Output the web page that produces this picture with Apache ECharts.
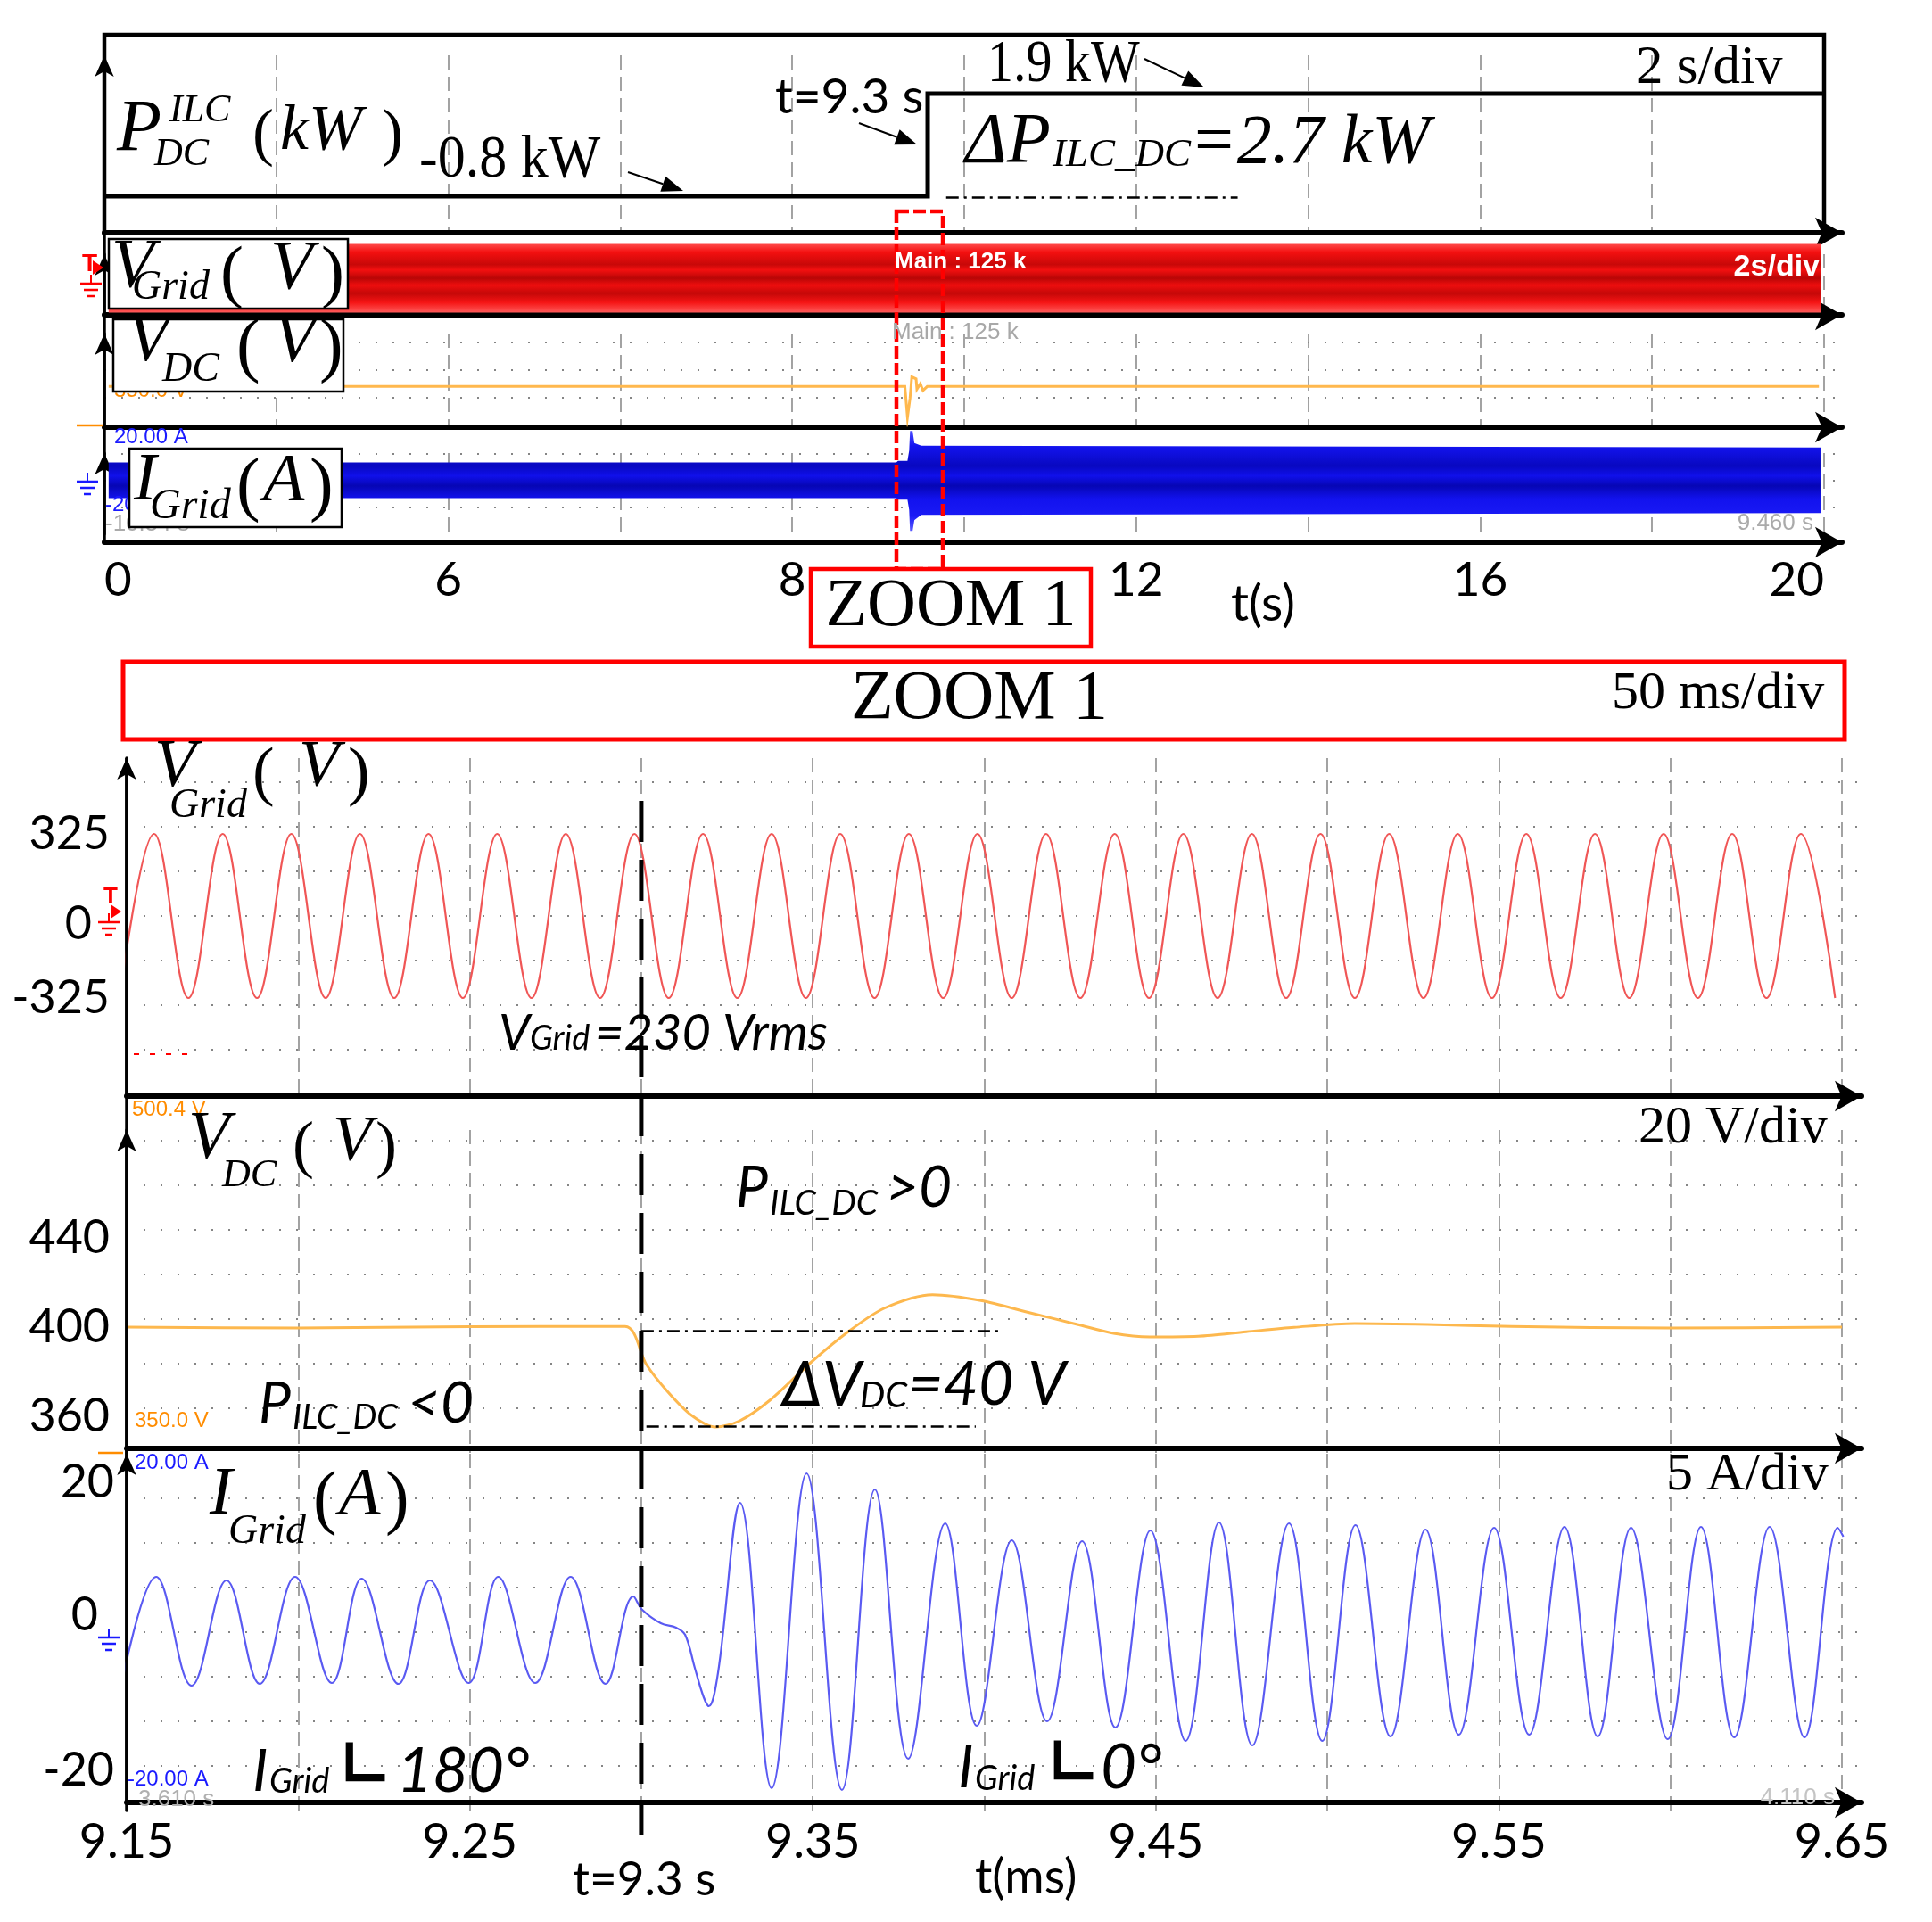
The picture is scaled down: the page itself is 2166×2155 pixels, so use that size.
<!DOCTYPE html>
<html>
<head>
<meta charset="utf-8">
<script src="https://cdn.jsdelivr.net/npm/echarts@6.0.0/dist/echarts.min.js"></script>
<style>
  html, body { margin: 0; padding: 0; background: #fff; }
  #chart { width: 2166px; height: 2155px; }
</style>
</head>
<body>
<div id="chart"></div>
<script>
var chart = echarts.init(document.getElementById('chart'), null, { width: 2166, height: 2155 })

// ---- top record, 2 s/div ----
var topTickValues = [0, 4, 8, 12, 16, 20]
var topTickText = ['0', '6', '8', '12', '16', '20']

var pdcTime = [0, 9.575, 9.575, 20]
var pdcKW = [-0.8, -0.8, 1.9, 1.9]

var vgridBandTime = [0.05, 19.96]
var vgridBandHi = [325, 325]
var vgridBandLo = [-325, -325]

var vdcTopTime = [0.05, 9.31, 9.34, 9.37, 9.39, 9.44, 9.45, 9.49, 9.52, 9.57, 19.94]
var vdcTopVolt = [400, 400, 355, 383, 414, 411, 396, 404, 394, 400, 400]

var igridBandTime = [0.05, 9.21, 9.23, 9.34, 9.36, 9.37, 9.40, 9.42, 9.50, 19.96]
var igridBandHi = [6, 6, 6.5, 6.5, 10, 16.6, 16.6, 12.5, 11.6, 11]
var igridBandLo = [-6, -6, -6.5, -6.5, -10, -17, -17, -13.4, -11.6, -11]

// ---- ZOOM 1, 50 ms/div ----
var zoomTickValues = [9.15, 9.25, 9.35, 9.45, 9.55, 9.65]
var vgridTicks = [-325, 0, 325]
var vdcTicks = [360, 400, 440]
var igridTicks = [-20, 0, 20]

// grid voltage: successive troughs / peaks
var vgridTime = [9.148, 9.158, 9.168, 9.178, 9.188, 9.198, 9.208, 9.218, 9.228, 9.238,
  9.248, 9.258, 9.268, 9.278, 9.288, 9.298, 9.308, 9.318, 9.328, 9.338,
  9.348, 9.358, 9.368, 9.378, 9.388, 9.398, 9.408, 9.418, 9.428, 9.438,
  9.448, 9.458, 9.468, 9.478, 9.488, 9.498, 9.508, 9.518, 9.528, 9.538,
  9.548, 9.558, 9.568, 9.578, 9.588, 9.598, 9.608, 9.618, 9.628, 9.638, 9.648]
var vgridVolt = [-325, 325, -325, 325, -325, 325, -325, 325, -325, 325,
  -325, 325, -325, 325, -325, 325, -325, 325, -325, 325,
  -325, 325, -325, 325, -325, 325, -325, 325, -325, 325,
  -325, 325, -325, 325, -325, 325, -325, 325, -325, 325,
  -325, 325, -325, 325, -325, 325, -325, 325, -325, 325, -325]

var vdcTime = [9.15, 9.20, 9.25, 9.2953, 9.3015, 9.3076, 9.3146, 9.3216, 9.3286,
  9.3375, 9.3497, 9.3603, 9.3709, 9.3849, 9.3990, 9.4131, 9.4271, 9.4377, 9.4482,
  9.4623, 9.4763, 9.4903, 9.5080, 9.5291, 9.5537, 9.60, 9.65]
var vdcVolt = [400, 399.6, 400.2, 400.3, 383.2, 371.2, 360.5, 355.2, 357.9,
  367.2, 384.5, 397.9, 408.5, 414.5, 411.9, 406.5, 401.2, 397.2, 395.6,
  395.9, 397.9, 399.9, 401.6, 401.2, 400.3, 399.6, 400]

var igridTime = [9.1485, 9.1586, 9.1689, 9.1791, 9.1888, 9.1991, 9.2098, 9.2185, 9.2292, 9.2384,
  9.2497, 9.2583, 9.2691, 9.2794, 9.2896, 9.2977, 9.3003, 9.3057, 9.3102, 9.3128,
  9.3156, 9.3182, 9.3197, 9.3224, 9.3288, 9.3380, 9.3482, 9.3585, 9.3681, 9.3778,
  9.3886, 9.3978, 9.4080, 9.4183, 9.4285, 9.4382, 9.4484, 9.4587, 9.4684, 9.4781,
  9.4888, 9.4985, 9.5082, 9.5184, 9.5286, 9.5383, 9.5486, 9.5588, 9.5691, 9.5788,
  9.5885, 9.5992, 9.6089, 9.6186, 9.6289, 9.6391, 9.6488, 9.6504]
var igridAmp = [-5.9, 6.2, -6.0, 5.8, -5.8, 6.2, -5.7, 6.0, -5.8, 5.8,
  -5.7, 6.2, -5.7, 6.2, -5.8, 4.0, 2.5, 1.0, 0.5, -0.3,
  -4.0, -7.3, -8.3, -4.5, 14.5, -17.5, 17.8, -17.7, 16.0, -14.2,
  12.2, -10.5, 10.3, -10.0, 10.2, -10.7, 11.4, -12.2, 12.3, -12.7,
  12.2, -12.2, 12.0, -11.7, 11.5, -11.5, 11.7, -11.5, 11.8, -11.7,
  11.7, -12.0, 11.8, -11.8, 11.8, -11.8, 11.7, 10.7]

// annotation levels
var pdcRefLine = [[9.79, -0.82], [13.18, -0.82]]
var dvdcTop = [[9.30, 398.2], [9.405, 398.2]]
var dvdcBottom = [[9.3015, 355.6], [9.3975, 355.6]]

var SERIF = '"Liberation Serif", "Times New Roman", serif'
var SANS = 'Lato, "Open Sans", sans-serif'
var SCOPE = '"Liberation Sans", Arial, sans-serif'

var TOP_MAX = 20.2075
var BOT_MAX = 9.6557

function zip(xs, ys) {
  return xs.map(function (x, i) { return [x, ys[i]] })
}

var dashV = { show: true, showMinLine: false, showMaxLine: false,
  lineStyle: { color: '#8c8c8c', width: 1.6, type: [16, 8] } }
var dotH = { show: true, showMinLine: false, showMaxLine: false,
  lineStyle: { color: '#858585', width: 2.2, type: [2, 17] } }
var arrowX = { show: true, onZero: false, lineStyle: { color: '#000', width: 6 },
  symbol: ['none', 'arrow'], symbolSize: [26, 30] }
var arrowY = { show: true, onZero: false, lineStyle: { color: '#000', width: 3.5 },
  symbol: ['none', 'arrow'], symbolSize: [16, 24] }

function xTop(i, off, labels) {
  return {
    gridIndex: i, type: 'value', min: 0, max: TOP_MAX, interval: 2, offset: off,
    axisLine: arrowX, axisTick: { show: false }, splitLine: dashV,
    axisLabel: labels ? {
      customValues: topTickValues, fontFamily: SANS, fontSize: 53, color: '#000', margin: 16,
      alignMinLabel: 'left', alignMaxLabel: 'right',
      formatter: function (v) {
        for (var k = 0; k < topTickValues.length; k++) {
          if (Math.abs(topTickValues[k] - v) < 1e-6) return topTickText[k]
        }
        return ''
      }
    } : { show: false }
  }
}

function xZoom(i, off, labels) {
  return {
    gridIndex: i, type: 'value', min: 9.15, max: BOT_MAX, interval: 0.05, offset: off,
    axisLine: arrowX, axisTick: { show: false }, splitLine: dashV,
    axisLabel: labels ? {
      customValues: zoomTickValues, fontFamily: SANS, fontSize: 54, color: '#000', margin: 18,
      formatter: function (v) { return v.toFixed(2) }
    } : { show: false }
  }
}

function yData(i, min, max, label) {
  return {
    gridIndex: i, type: 'value', min: min, max: max,
    axisLine: arrowY, axisTick: { show: false }, splitLine: { show: false },
    axisLabel: label || { show: false }
  }
}

function yDiv(i, max) {
  return {
    gridIndex: i, type: 'value', position: 'right', min: 0, max: max, interval: 1,
    axisLine: { show: false }, axisTick: { show: false }, axisLabel: { show: false },
    splitLine: dotH
  }
}

function bandSeries(ax, ts, hi, lo, fill) {
  return {
    type: 'custom', xAxisIndex: ax, yAxisIndex: ax, silent: true, z: 2,
    data: [[ts[0], hi[0]]],
    renderItem: function (params, api) {
      var pts = []
      for (var i = 0; i < ts.length; i++) pts.push(api.coord([ts[i], hi[i]]))
      for (var j = ts.length - 1; j >= 0; j--) pts.push(api.coord([ts[j], lo[j]]))
      return { type: 'polygon', shape: { points: pts }, style: { fill: fill } }
    }
  }
}

function lineSeries(ax, data, color, width, smooth, extra) {
  var s = {
    type: 'line', xAxisIndex: ax, yAxisIndex: ax, data: data, smooth: smooth,
    symbol: 'none', showSymbol: false, silent: true, z: 3,
    lineStyle: { color: color, width: width, join: 'miter' }
  }
  if (extra) s.markLine = extra
  return s
}

function dashDot(pairs) {
  return {
    silent: true, symbol: 'none', label: { show: false },
    lineStyle: { color: '#000', width: 2.5, type: [14, 6, 3, 6] },
    data: pairs.map(function (p) { return [{ coord: p[0] }, { coord: p[1] }] })
  }
}

var redFill = new echarts.graphic.LinearGradient(0, 0, 0, 1, [
  { offset: 0, color: '#ff4a4a' }, { offset: 0.12, color: '#f41010' },
  { offset: 0.3, color: '#c80808' }, { offset: 0.38, color: '#f31010' },
  { offset: 0.5, color: '#b80606' }, { offset: 0.6, color: '#ee0e0e' },
  { offset: 0.72, color: '#c40808' }, { offset: 0.85, color: '#f51414' },
  { offset: 1, color: '#ff5a5a' }
])
var blueFill = new echarts.graphic.LinearGradient(0, 0, 0, 1, [
  { offset: 0, color: '#4a4aff' }, { offset: 0.15, color: '#1414f0' },
  { offset: 0.35, color: '#0808c0' }, { offset: 0.45, color: '#1010ea' },
  { offset: 0.55, color: '#0606b4' }, { offset: 0.68, color: '#1212ee' },
  { offset: 0.85, color: '#1a1af5' }, { offset: 1, color: '#5a5aff' }
])

var option = {
  animation: false,
  backgroundColor: '#fff',
  grid: [
    { left: 117, right: 101, top: 62, bottom: 2155 - 261 },
    { left: 117, right: 101, top: 285, bottom: 2155 - 353 },
    { left: 117, right: 101, top: 374, bottom: 2155 - 477 },
    { left: 117, right: 101, top: 508, bottom: 2155 - 599 },
    { left: 142, right: 79, top: 850, bottom: 2155 - 1227 },
    { left: 142, right: 79, top: 1267, bottom: 2155 - 1629 },
    { left: 142, right: 79, top: 1630, bottom: 2155 - 2030 }
  ],
  xAxis: [
    xTop(0, 0), xTop(1, 0), xTop(2, 2), xTop(3, 9, true),
    xZoom(4, 2), xZoom(5, -5), xZoom(6, -9, true)
  ],
  yAxis: [
    yData(0, -1.7626, 2.9096),
    yData(1, -346.1, 227.9),
    yData(2, 343.2, 477.1),
    yData(3, -18.15, 9.15),
    yData(4, -706.5, 625.3, {
      customValues: vgridTicks, fontFamily: SANS, fontSize: 52, color: '#000', margin: 19,
      formatter: function (v) { return v === 0 ? '{z|0}' : String(v) },
      rich: { z: { fontFamily: SANS, fontSize: 52, color: '#000', padding: [18, 20, 0, 0] } }
    }),
    yData(5, 343.6, 488.4, {
      customValues: vdcTicks, fontFamily: SANS, fontSize: 52, color: '#000', margin: 19
    }),
    yData(6, -20, 20, {
      customValues: igridTicks, fontFamily: SANS, fontSize: 52, color: '#000', margin: 14,
      formatter: function (v) {
        if (v > 0) return '{hi|' + v + '}'
        if (v < 0) return '{lo|' + v + '}'
        return '{mid|0}'
      },
      rich: {
        hi: { fontFamily: SANS, fontSize: 52, color: '#000', padding: [64, 0, 0, 0] },
        mid: { fontFamily: SANS, fontSize: 52, color: '#000', padding: [0, 18, 38, 0] },
        lo: { fontFamily: SANS, fontSize: 52, color: '#000', padding: [0, 0, 90, 0] }
      }
    }),
    yDiv(2, 3.3226), yDiv(3, 3.0333), yDiv(4, 7.54), yDiv(5, 7.24), yDiv(6, 8)
  ],
  series: [
    lineSeries(0, zip(pdcTime, pdcKW), '#000', 5, false, dashDot([pdcRefLine])),
    bandSeries(1, vgridBandTime, vgridBandHi, vgridBandLo, redFill),
    lineSeries(2, zip(vdcTopTime, vdcTopVolt), '#ffb84d', 3, false),
    bandSeries(3, igridBandTime, igridBandHi, igridBandLo, blueFill),
    lineSeries(4, zip(vgridTime, vgridVolt), '#f05656', 2.2, 0.38),
    lineSeries(5, zip(vdcTime, vdcVolt), '#fdb84e', 3, 0.3, dashDot([dvdcTop, dvdcBottom])),
    lineSeries(6, zip(igridTime, igridAmp), '#5a5af2', 2.2, 0.38)
  ]
}

chart.setOption(option)

// ---- decorations and text ----
function S(sz, it) { return (it ? 'italic ' : '') + sz + 'px ' + SERIF }
function A(sz, it, b) { return (it ? 'italic ' : '') + (b ? 'bold ' : '') + sz + 'px ' + SANS }
function M(sz, b) { return (b ? 'bold ' : '') + sz + 'px ' + SCOPE }
var ANGLE = 'bold 70px "DejaVu Sans", sans-serif'

function txt(x, y, s, font, o) {
  o = o || {}
  return {
    type: 'text', x: x, y: y, z: o.z || 100, silent: true,
    scaleX: o.sx || 1, scaleY: o.sy || 1,
    style: {
      text: s, font: font, fill: o.fill || '#000',
      align: o.align || 'left', verticalAlign: 'middle',
      textAlign: o.align || 'left', textVerticalAlign: 'middle'
    }
  }
}
function seg(x1, y1, x2, y2, o) {
  o = o || {}
  return {
    type: 'line', z: o.z || 60, silent: true,
    shape: { x1: x1, y1: y1, x2: x2, y2: y2 },
    style: { stroke: o.color || '#000', lineWidth: o.lw || 2, lineDash: o.dash || null }
  }
}
function box(x, y, w, h, o) {
  o = o || {}
  return {
    type: 'rect', z: o.z || 50, silent: true,
    shape: { x: x, y: y, width: w, height: h },
    style: { fill: o.fill || '#fff', stroke: o.stroke || '#000', lineWidth: o.lw || 2.5, lineDash: o.dash || null }
  }
}
function arrow(x1, y1, x2, y2) {
  var a = Math.atan2(y2 - y1, x2 - x1), L = 24, w = 9
  var bx = x2 - L * Math.cos(a), by = y2 - L * Math.sin(a)
  return [
    seg(x1, y1, bx, by, { lw: 2 }),
    { type: 'polygon', z: 60, silent: true,
      shape: { points: [[x2, y2], [bx + w * Math.sin(a), by - w * Math.cos(a)], [bx - w * Math.sin(a), by + w * Math.cos(a)]] },
      style: { fill: '#000' } }
  ]
}
function ground(cx, cy, color) {
  return [
    seg(cx, cy - 10, cx, cy, { color: color, lw: 2, z: 70 }),
    seg(cx - 12, cy, cx + 12, cy, { color: color, lw: 2.5, z: 70 }),
    seg(cx - 8, cy + 7, cx + 8, cy + 7, { color: color, lw: 2.5, z: 70 }),
    seg(cx - 4, cy + 14, cx + 4, cy + 14, { color: color, lw: 2.5, z: 70 })
  ]
}

var x93 = chart.convertToPixel({ xAxisIndex: 6 }, 9.3)

var g = []
// frames
g.push(box(117, 39, 1928, 222, { fill: 'none', lw: 4.5, z: 55 }))
g.push(seg(117, 58, 117, 608, { lw: 3.5, z: 5 }))
g.push(seg(142, 850, 142, 2021, { lw: 3.5, z: 5 }))
g.push(box(1005, 237, 52, 401, { fill: 'none', stroke: '#ff0000', lw: 4.5, dash: [14, 5], z: 58 }))
g.push(box(909, 638, 314, 87, { fill: '#fff', stroke: '#ff0000', lw: 4.5, z: 58 }))
g.push(box(138, 742, 1930, 87, { fill: 'none', stroke: '#ff0000', lw: 5, z: 58 }))
g.push(seg(x93, 898, x93, 2058, { lw: 5, dash: [46, 20], z: 65 }))

// top P panel text
g.push(txt(131, 146, 'P', S(82, 1)))
g.push(txt(190, 124, 'ILC', S(44, 1)))
g.push(txt(173, 173, 'DC', S(44, 1)))
g.push(txt(283, 153, '(', S(72)))
g.push(txt(314, 148, 'kW', S(72, 1)))
g.push(txt(428, 153, ')', S(72)))
g.push(txt(470, 180, '-0.8 kW', S(62), { sy: 1.1 }))
g.push(txt(869, 109, 't=9.3 s', A(55)))
g.push(txt(1107, 73, '1.9 kW', S(58), { sy: 1.15 }))
g.push(txt(1834, 77, '2 s/div', S(61)))
g.push(txt(1082, 161, '\u0394P', S(80, 1)))
g.push(txt(1180, 174, 'ILC_DC', S(45, 1)))
g.push(txt(1334, 161, '=2.7 kW', S(78, 1)))
g = g.concat(arrow(704, 193, 766, 214), arrow(963, 138, 1028, 162), arrow(1283, 66, 1350, 98))

// top scope labels
g.push(txt(128, 438, '350.0 V', M(24), { fill: '#ff8c00', z: 40 }))
g.push(txt(118, 566, '-20.00 A', M(24), { fill: '#1a1aff', z: 40 }))
g.push(txt(118, 588, '-10.54 s', M(26), { fill: '#aaaaaa', z: 40 }))
g.push(box(122, 268, 268, 78))
g.push(box(127, 358, 258, 81))
g.push(box(145, 503, 238, 88))
g.push(txt(125, 300, 'V', S(78, 1)))
g.push(txt(148, 323, 'Grid', S(46, 1)))
g.push(txt(247, 310, '(', S(78)))
g.push(txt(303, 302, 'V', S(78, 1)))
g.push(txt(360, 310, ')', S(78)))
g.push(txt(143, 384, 'V', S(76, 1)))
g.push(txt(182, 415, 'DC', S(46, 1)))
g.push(txt(265, 392, '(', S(80)))
g.push(txt(307, 385, 'V', S(76, 1)))
g.push(txt(358, 392, ')', S(80)))
g.push(txt(150, 540, 'I', S(76, 1)))
g.push(txt(168, 568, 'Grid', S(48, 1)))
g.push(txt(265, 548, '(', S(80)))
g.push(txt(295, 541, 'A', S(76, 1)))
g.push(txt(347, 548, ')', S(80)))
g.push(txt(1003, 294, 'Main : 125 k', M(26, true), { fill: '#fff', z: 70 }))
g.push(txt(2040, 300, '2s/div', M(34, true), { fill: '#fff', align: 'right', z: 70 }))
g.push(txt(1000, 373, 'Main : 125 k', M(26), { fill: '#a8a8a8' }))
g.push(txt(128, 490, '20.00 A', M(24), { fill: '#1a1aff' }))
g.push(txt(2033, 587, '9.460 s', M(26), { fill: '#aaaaaa', align: 'right' }))
g.push(txt(92, 296, 'T', M(28, true), { fill: '#ff0000' }))
g.push({ type: 'polygon', z: 70, silent: true, shape: { points: [[104, 292], [116, 300], [104, 308]] }, style: { fill: '#ff0000' } })
g = g.concat(ground(102, 318, '#ff0000'))
g.push(seg(86, 477, 115, 477, { color: '#ff8c00', lw: 2.5 }))
g = g.concat(ground(98, 540, '#1a1aff'))
g.push(txt(1380, 678, 't(s)', A(56)))
g.push(txt(1066, 681, 'ZOOM 1', S(76), { align: 'center', z: 110 }))

// zoom header
g.push(txt(1098, 785, 'ZOOM 1', S(78), { align: 'center' }))
g.push(txt(1807, 778, '50 ms/div', S(60)))

// zoom V_grid panel
g.push(txt(173, 861, 'V', S(76, 1)))
g.push(txt(190, 904, 'Grid', S(46, 1)))
g.push(txt(283, 870, '(', S(74)))
g.push(txt(335, 862, 'V', S(74, 1)))
g.push(txt(390, 870, ')', S(74)))
g.push(txt(559, 1159, 'V', A(56, 1)))
g.push(txt(594, 1165, 'Grid', A(38, 1)))
g.push(txt(667, 1159, '=230 Vrms', A(56, 1)))
g.push(txt(116, 1006, 'T', M(26, true), { fill: '#ff0000' }))
g.push({ type: 'polygon', z: 70, silent: true, shape: { points: [[124, 1014], [136, 1022], [124, 1030]] }, style: { fill: '#ff0000' } })
g = g.concat(ground(122, 1034, '#ff0000'))
g.push(seg(150, 1182, 214, 1182, { color: '#ff0000', lw: 2, dash: [6, 12] }))
g.push(txt(148, 1244, '500.4 V', M(24), { fill: '#ff8c00', z: 4 }))

// zoom V_dc panel
g.push(txt(211, 1278, 'V', S(76, 1)))
g.push(txt(249, 1318, 'DC', S(44, 1)))
g.push(txt(328, 1288, '(', S(72)))
g.push(txt(373, 1281, 'V', S(72, 1)))
g.push(txt(421, 1288, ')', S(72)))
g.push(txt(1837, 1265, '20 V/div', S(60)))
g.push(txt(825, 1332, 'P', A(64, 1)))
g.push(txt(863, 1349, 'ILC_DC', A(39, 1)))
g.push(txt(993, 1332, '>0', A(64, 1)))
g.push(txt(290, 1574, 'P', A(64, 1)))
g.push(txt(328, 1590, 'ILC_DC', A(38, 1)))
g.push(txt(457, 1574, '<0', A(64, 1)))
g.push(txt(877, 1553, '\u0394V', A(70, 1)))
g.push(txt(964, 1565, 'DC', A(40, 1)))
g.push(txt(1018, 1553, '=40 V', A(68, 1)))
g.push(txt(151, 1593, '350.0 V', M(24), { fill: '#ff8c00' }))
g.push(seg(110, 1629, 138, 1629, { color: '#ff8c00', lw: 2.5 }))

// zoom I_grid panel
g.push(txt(235, 1677, 'I', S(76, 1)))
g.push(txt(256, 1718, 'Grid', S(46, 1)))
g.push(txt(351, 1684, '(', S(80)))
g.push(txt(380, 1678, 'A', S(76, 1)))
g.push(txt(432, 1684, ')', S(80)))
g.push(txt(1868, 1654, '5 A/div', S(60)))
g.push(txt(283, 1987, 'I', A(66, 1)))
g.push(txt(302, 1998, 'Grid', A(38, 1)))
g.push(txt(380, 1984, '\u221F', ANGLE))
g.push(txt(445, 1987, '180\u00B0', A(69, 1)))
g.push(txt(1074, 1983, 'I', A(66, 1)))
g.push(txt(1093, 1995, 'Grid', A(38, 1)))
g.push(txt(1174, 1982, '\u221F', ANGLE))
g.push(txt(1234, 1983, '0\u00B0', A(69, 1)))
g.push(txt(151, 1640, '20.00 A', M(24), { fill: '#1a1aff' }))
g.push(txt(143, 1995, '-20.00 A', M(24), { fill: '#1a1aff' }))
g.push(txt(155, 2018, '3.610 s', M(26), { fill: '#b0b0b0', z: 4 }))
g.push(txt(2057, 2016, '4.110 s', M(26), { fill: '#c4c4c4', align: 'right', z: 4 }))
g = g.concat(ground(122, 1836, '#1a1aff'))
g.push(txt(642, 2108, 't=9.3 s', A(53)))
g.push(txt(1093, 2106, 't(ms)', A(54)))

chart.setOption({ graphic: { elements: g } })
</script>
</body>
</html>
